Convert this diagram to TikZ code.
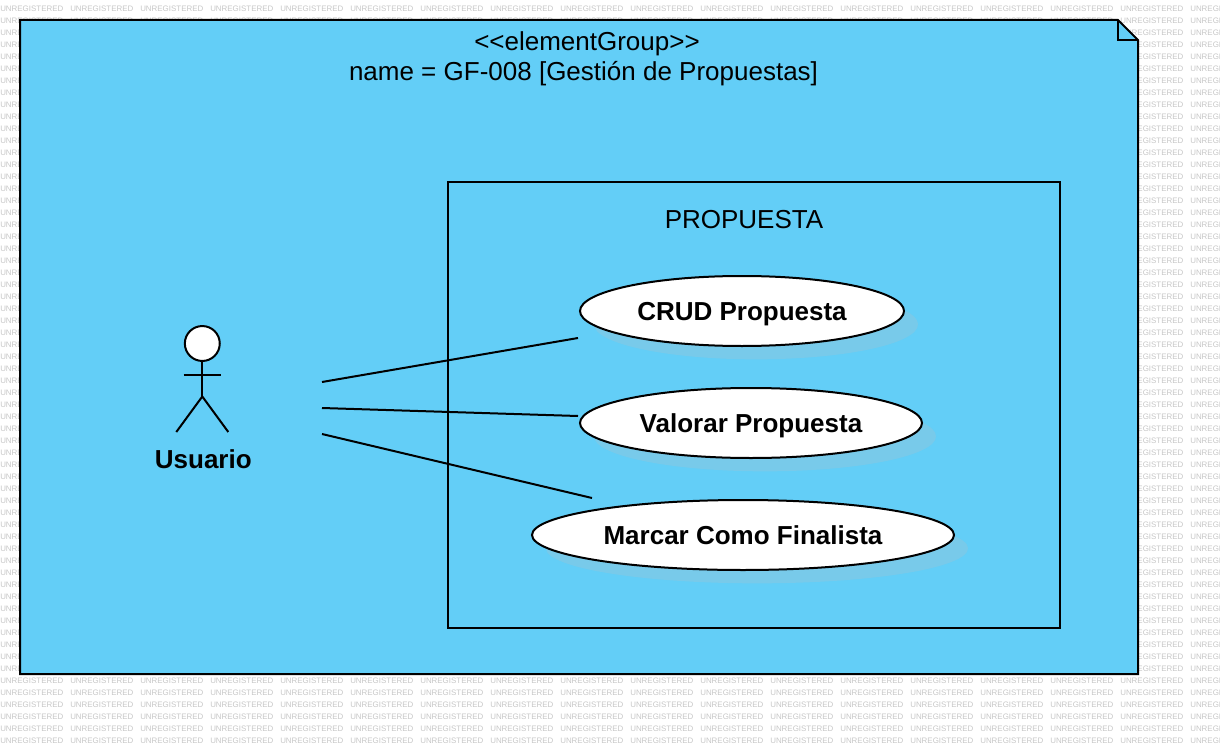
\documentclass[tikz,border=0pt]{standalone}
\usepackage{fontspec}
\setmainfont{Liberation Sans}
\usetikzlibrary{shapes.geometric, shadows}
\usepackage{xcolor}
\definecolor{noteblue}{HTML}{63CEF7}
\definecolor{shadowblue}{HTML}{78CAEA}
\definecolor{markgray}{HTML}{C6C6C6}

\tikzset{
    usecase/.style={draw, ellipse, line width=1.5pt, fill=white, inner sep=0pt, text height=14pt, text depth=0pt, font=\fontsize{19.5}{23}\selectfont\bfseries,
        copy shadow={shadow xshift=10.5pt, shadow yshift=-10pt, draw=none, fill=shadowblue, opacity=1}},
    wire/.style={line width=1.5pt},
    caption/.style={inner sep=0pt, font=\fontsize{19.5}{23}\selectfont},
    watermark/.style={inner sep=0pt, anchor=west, text=markgray, font=\fontsize{5.95}{8}\selectfont}
}

\begin{document}
\begin{tikzpicture}[x=0.75pt, y=-0.75pt]
    \useasboundingbox (0,0) rectangle (1220,756);
    \begin{scope}
        \clip (0,0) rectangle (1220,756);
        \foreach \row in {0,...,61} {
            \foreach \col in {0,...,17} {
                \node[watermark] (mark-\row-\col) at (\col*70, 9+\row*12) {UNREGISTERED};
            }
        }
    \end{scope}

    \draw[line width=1.5pt, fill=noteblue] (20,20) -- (1118,20) -- (1138,40) -- (1138,674) -- (20,674) -- cycle;
    \draw[line width=1.5pt] (1118,20) -- (1118,40) -- (1138,40);
    \node[caption] (stereotype) at (587,44) {<{}<elementGroup>{}>};
    \node[caption] (groupname) at (583.5,73.5) {name = GF-008 [Gestión de Propuestas]};

    \draw[line width=1.5pt] (448,182) rectangle (1060,628);
    \node[caption] (boundary) at (744,219.5) {PROPUESTA};

    \node[usecase, minimum width=243pt, minimum height=52.5pt] (crud) at (742,311) {CRUD Propuesta};
    \node[usecase, minimum width=256.5pt, minimum height=52.5pt] (valorar) at (751,423) {Valorar Propuesta};
    \node[usecase, minimum width=316.5pt, minimum height=52.5pt] (marcar) at (743,535) {Marcar Como Finalista};

    \node[draw, circle, line width=1.5pt, fill=white, minimum size=26.2pt, inner sep=0pt] (head) at (202.3,343.5) {};
    \coordinate (hip) at (202.3,396.5);
    \coordinate (armleft) at (183.5,374.5);
    \coordinate (armright) at (221,374.5);
    \coordinate (footleft) at (176.3,432);
    \coordinate (footright) at (228.3,432);
    \draw[line width=1.5pt] (head) -- (hip);
    \draw[line width=1.5pt] (armleft) -- (armright);
    \draw[line width=1.5pt] (footleft) -- (hip) -- (footright);
    \node[caption, font=\fontsize{19.5}{23}\selectfont\bfseries] (usuario) at (203.3,459) {Usuario};

    \coordinate (startcrud) at (322,382);
    \coordinate (startvalorar) at (322,408);
    \coordinate (startmarcar) at (322,434);
    \coordinate (endcrud) at (578,338);
    \coordinate (endvalorar) at (578,416);
    \coordinate (endmarcar) at (592,498);
    \draw[wire] (startcrud) -- (endcrud);
    \draw[wire] (startvalorar) -- (endvalorar);
    \draw[wire] (startmarcar) -- (endmarcar);
\end{tikzpicture}
\end{document}
